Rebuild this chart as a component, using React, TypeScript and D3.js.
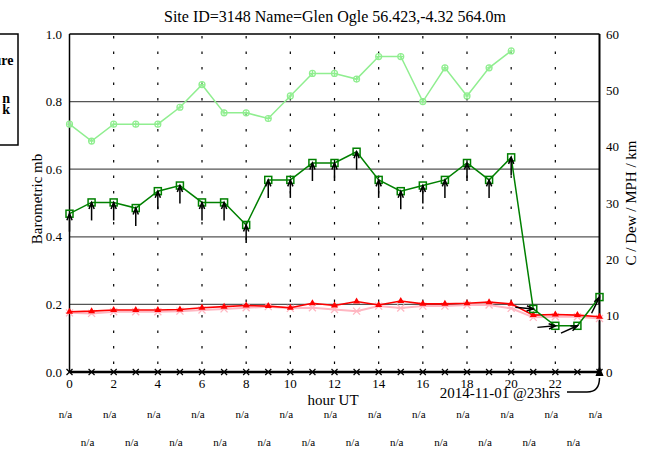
import React from "react";
import * as d3 from "d3";

const TITLE = "Site ID=3148 Name=Glen Ogle 56.423,-4.32 564.0m";
const hours = d3.range(0, 25);
const xTicks = [0, 2, 4, 6, 8, 10, 12, 14, 16, 18, 20, 22];
const leftTicks = [0.0, 0.2, 0.4, 0.6, 0.8, 1.0];
const rightTicks = [0, 10, 20, 30, 40, 50, 60];
const gridLeft = [0.2, 0.4, 0.6, 0.8];
const gridHours = [2, 4, 6, 8, 10, 12, 14, 16, 18, 20, 22];

// light green series (hours 0..20)
const lightGreen = [44, 41, 44, 44, 44, 47, 51, 46, 46, 45, 49, 53, 53, 52, 56, 56, 48, 54, 49, 54, 57];
// dark green series with wind arrows (hours 0..24)
const darkGreen = [28.1, 30.1, 30.1, 29.1, 32.1, 33.1, 30.1, 30.1, 26.1, 34.1, 34.1, 37.1, 37.1, 39.1, 34.1, 32.1, 33.1, 34.1, 37.1, 34.1, 38.1, 11.2, 8.2, 8.2, 13.3];
// arrow direction (degrees, screen, 0 = pointing up, clockwise)
const windDir = [0, 0, 0, 0, 0, 0, 0, 0, 0, 0, 0, 0, 0, 0, 0, 0, 0, 0, 0, 0, 0, 95, 85, 66, 26];
const red = [10.7, 10.8, 11.0, 11.0, 11.0, 11.1, 11.4, 11.6, 11.8, 11.7, 11.4, 12.2, 11.8, 12.5, 11.9, 12.6, 12.1, 12.1, 12.2, 12.4, 12.1, 10.1, 10.2, 10.1, 9.8];
const pink = [10.5, 10.4, 10.7, 10.7, 10.7, 10.8, 11.0, 11.2, 11.4, 11.6, 11.3, 11.4, 11.1, 10.8, 11.7, 11.35, 11.7, 11.7, 11.9, 11.9, 11.3, 9.7, 9.8, 9.8, 9.5];
const rain = [0, 0, 0, 0, 0, 0, 0, 0, 0, 0, 0, 0, 0, 0, 0, 0, 0, 0, 0, 0, 0, 0, 0, 0, 0];
const naRow1 = [0, 2, 4, 6, 8, 10, 12, 14, 16, 18, 20, 22, 24];
const naRow2 = [1, 3, 5, 7, 9, 11, 13, 15, 17, 19, 21, 23];
const legendItems = ["Temperature", "Wind: km/h n", "Cloud: k"];

const W = 645, H = 450;
const x = d3.scaleLinear().domain([0, 24]).range([69.5, 599.5]);
const yR = d3.scaleLinear().domain([0, 60]).range([372, 34]);
const yL = d3.scaleLinear().domain([0, 1]).range([372, 34]);

const serif = "Liberation Serif, Times New Roman, DejaVu Serif, serif";

function lineOf(vals: number[]) {
  return d3.line<number>().x((_, i) => x(hours[i])).y((v) => yR(v))(vals) || "";
}

export default function App() {
  const top = yR(60), bot = yR(0), left = x(0), right = x(24);
  const arrowLen = 18;
  const T = { fontFamily: serif } as React.CSSProperties;
  return (
    <svg width={W} height={H} style={{ position: "absolute", left: 0, top: 0, background: "#fff", fontFamily: serif }}>
      {/* legend box (cut off on left) */}
      <rect x={-120} y={34} width={138} height={111} fill="none" stroke="#000" strokeWidth={1.5} />
      {legendItems.map((t, i) => (
        <text key={t} style={T} x={[13.5, 10, 10][i]} y={[65, 103, 114][i]} textAnchor="end" fontSize={14} fontWeight="bold">{t}</text>
      ))}

      {/* title */}
      <text style={T} x={335} y={22} textAnchor="middle" fontSize={16}>{TITLE}</text>

      {/* horizontal grid */}
      {gridLeft.map((v) => (
        <line key={v} x1={left} x2={right} y1={yL(v)} y2={yL(v)} stroke="#555" strokeWidth={1.3} />
      ))}
      {/* vertical dotted grid */}
      {gridHours.map((h) => (
        <line key={h} x1={x(h)} x2={x(h)} y1={top + 2} y2={bot} stroke="#000" strokeWidth={1.2} strokeDasharray="2.5,13" />
      ))}

      {/* frame */}
      <line x1={left} x2={right} y1={top} y2={top} stroke="#000" strokeWidth={1.5} />
      <line x1={left} x2={left} y1={top} y2={bot} stroke="#000" strokeWidth={1.5} />
      <line x1={right} x2={right} y1={top} y2={bot} stroke="#000" strokeWidth={2} />

      {/* light green */}
      <path d={lineOf(lightGreen)} fill="none" stroke="#90ee90" strokeWidth={1.5} />
      {lightGreen.map((v, i) => (
        <g key={i} stroke="#90ee90" strokeWidth={1.2} fill="none">
          <circle cx={x(hours[i])} cy={yR(v)} r={3} />
          <line x1={x(hours[i]) - 3} x2={x(hours[i]) + 3} y1={yR(v)} y2={yR(v)} />
          <line x1={x(hours[i])} x2={x(hours[i])} y1={yR(v) - 3} y2={yR(v) + 3} />
        </g>
      ))}

      {/* pink */}
      <path d={lineOf(pink)} fill="none" stroke="#ffb6c1" strokeWidth={2} />
      {pink.map((v, i) => {
        const cx = x(hours[i]), cy = yR(v);
        return (
          <g key={i} stroke="#ffb6c1" strokeWidth={1.3}>
            <line x1={cx - 3.5} x2={cx + 3.5} y1={cy - 3.5} y2={cy + 3.5} />
            <line x1={cx - 3.5} x2={cx + 3.5} y1={cy + 3.5} y2={cy - 3.5} />
            <line x1={cx - 4} x2={cx + 4} y1={cy} y2={cy} />
          </g>
        );
      })}
      {/* red */}
      <path d={lineOf(red)} fill="none" stroke="#ff0000" strokeWidth={1.6} />
      {red.map((v, i) => {
        const cx = x(hours[i]), cy = yR(v);
        return <path key={i} d={`M${cx},${cy - 4}L${cx + 3.5},${cy + 2}L${cx - 3.5},${cy + 2}Z`} fill="#ff0000" />;
      })}

      {/* dark green */}
      <path d={lineOf(darkGreen)} fill="none" stroke="#008000" strokeWidth={1.5} />
      {darkGreen.map((v, i) => (
        <rect key={i} x={x(hours[i]) - 3.5} y={yR(v) - 3.5} width={7} height={7} fill="none" stroke="#008000" strokeWidth={1.5} />
      ))}
      {/* wind arrows */}
      {darkGreen.map((v, i) => {
        const a = (windDir[i] * Math.PI) / 180;
        const tx = x(hours[i]), ty = yR(v);
        const dx = Math.sin(a), dy = -Math.cos(a);
        const sx = tx - dx * arrowLen, sy = ty - dy * arrowLen;
        const hl = 7, ha = (22 * Math.PI) / 180;
        const bx = -dx, by = -dy;
        const h1x = tx + hl * (bx * Math.cos(ha) - by * Math.sin(ha));
        const h1y = ty + hl * (bx * Math.sin(ha) + by * Math.cos(ha));
        const h2x = tx + hl * (bx * Math.cos(-ha) - by * Math.sin(-ha));
        const h2y = ty + hl * (bx * Math.sin(-ha) + by * Math.cos(-ha));
        return (
          <g key={i} stroke="#000" strokeWidth={1.5} fill="none">
            <line x1={sx} y1={sy} x2={tx} y2={ty} />
            <path d={`M${h1x},${h1y}L${tx},${ty}L${h2x},${h2y}`} />
          </g>
        );
      })}

      {/* bottom zero series */}
      <path d={lineOf(rain)} fill="none" stroke="#000" strokeWidth={2.5} />
      {rain.map((v, i) => {
        const cx = x(hours[i]), cy = yR(v);
        return (
          <g key={i} stroke="#000" strokeWidth={1.2}>
            <line x1={cx - 3} x2={cx + 3} y1={cy - 3} y2={cy + 3} />
            <line x1={cx - 3} x2={cx + 3} y1={cy + 3} y2={cy - 3} />
          </g>
        );
      })}

      {/* left ticks */}
      {leftTicks.map((v) => (
        <text key={v} style={T} x={62} y={yL(v) + 4.5} textAnchor="end" fontSize={13}>{v.toFixed(1)}</text>
      ))}
      {/* right ticks */}
      {rightTicks.map((v) => (
        <text key={v} style={T} x={606} y={yR(v) + 4.5} textAnchor="start" fontSize={13}>{v}</text>
      ))}
      {/* x ticks */}
      {xTicks.map((h) => (
        <text key={h} style={T} x={x(h)} y={388} textAnchor="middle" fontSize={13}>{h}</text>
      ))}

      {/* axis labels */}
      <text style={T} x={333} y={405} textAnchor="middle" fontSize={15}>hour UT</text>
      <text style={T} transform={`translate(42,${(top + bot) / 2 - 4}) rotate(-90)`} textAnchor="middle" fontSize={15}>Barometric mb</text>
      <text style={T} transform={`translate(636,${(top + bot) / 2}) rotate(-90)`} textAnchor="middle" fontSize={15}>C / Dew / MPH / km</text>

      {/* annotation */}
      <text style={T} x={500} y={398} textAnchor="middle" fontSize={15}>2014-11-01 @23hrs</text>
      <path d={`M567,392L587,392Q${right},392 ${right},378`} fill="none" stroke="#000" strokeWidth={1.5} />
      <path d={`M${right},${bot - 6}L${right + 4},${bot + 4}L${right - 4},${bot + 4}Z`} fill="#000" />

      {/* n/a rows */}
      {naRow1.map((h) => (
        <text key={"a" + h} style={T} x={x(h) - 4} y={418} textAnchor="middle" fontSize={11}>n/a</text>
      ))}
      {naRow2.map((h) => (
        <text key={"b" + h} style={T} x={x(h) - 4} y={446} textAnchor="middle" fontSize={11}>n/a</text>
      ))}
    </svg>
  );
}
